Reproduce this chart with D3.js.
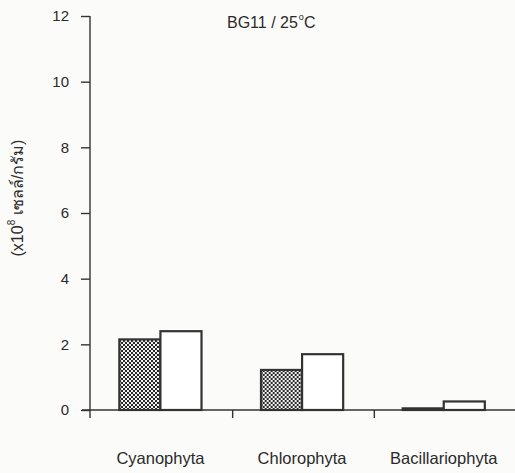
<!DOCTYPE html>
<html>
<head>
<meta charset="utf-8">
<script src="https://cdn.jsdelivr.net/npm/d3@7"></script>
<style>
  body { margin: 0; background: #fbfbf9; }
  text { font-family: "Liberation Sans", Arial, sans-serif; fill: #2a2a2a; }
</style>
</head>
<body>
<svg id="chart" width="515" height="473"></svg>
<script>
const categories = ['Cyanophyta', 'Chlorophyta', 'Bacillariophyta']
const seriesNames = ['dotted', 'open']
const dottedValues = [2.15, 1.22, 0.05]
const openValues = [2.4, 1.7, 0.26]
const yTicks = [0, 2, 4, 6, 8, 10, 12]

const rows = categories.map((c, i) => ({ cat: c, vals: [dottedValues[i], openValues[i]] }))

const chart = d3.select('#chart')
const ink = '#333'

// stipple fill for the first series
const pat = chart.append('defs').append('pattern')
    .attr('id', 'dots')
    .attr('patternUnits', 'userSpaceOnUse')
    .attr('width', 4).attr('height', 4)
pat.append('rect').attr('width', 4).attr('height', 4).attr('fill', '#fff')
pat.append('circle').attr('cx', 1).attr('cy', 1).attr('r', 1.15).attr('fill', '#1e1e1e')
pat.append('circle').attr('cx', 3).attr('cy', 3).attr('r', 1.15).attr('fill', '#1e1e1e')

const y = d3.scaleLinear().domain([0, 12]).range([410, 16])
const x0 = d3.scaleBand().domain(categories).range([91, 516])
const x1 = d3.scaleBand().domain(seriesNames)
    .range([x0.bandwidth() * 0.2, x0.bandwidth() * 0.78])

// Draw the bars
const groups = chart.selectAll('g.grp')
    .data(rows)
    .enter()
    .append('g')
    .attr('class', 'grp')
    .attr('transform', d => `translate(${x0(d.cat)},0)`)

groups.selectAll('rect')
    .data(d => d.vals.map((v, j) => ({ key: seriesNames[j], v })))
    .enter()
    .append('rect')
    .attr('x', d => x1(d.key))
    .attr('y', d => y(d.v))
    .attr('width', x1.bandwidth())
    .attr('height', d => y(0) - y(d.v))
    .attr('fill', d => d.key === 'dotted' ? 'url(#dots)' : '#fff')
    .attr('stroke', ink)
    .attr('stroke-width', 2.2)

// y-axis
const yAxis = d3.axisLeft(y).tickValues(yTicks).tickSize(9).tickPadding(12)
const gy = chart.append('g')
    .attr('transform', 'translate(90,0)')
    .call(yAxis)
gy.select('.domain').attr('d', `M0,${y(12)}V418`).attr('stroke', ink).attr('stroke-width', 1.4)
gy.selectAll('.tick line').attr('stroke', ink).attr('stroke-width', 1.4)
gy.selectAll('.tick text').attr('font-size', 15).attr('fill', '#2a2a2a')
    .attr('font-family', '"Liberation Sans", Arial, sans-serif')

// x-axis
const gx = chart.append('g').attr('transform', `translate(0,${y(0)})`)
gx.append('line').attr('x1', 82).attr('x2', 515).attr('stroke', ink).attr('stroke-width', 1.4)
gx.selectAll('line.tk')
    .data(categories.slice(1).concat(['end']))
    .enter()
    .append('line')
    .attr('class', 'tk')
    .attr('x1', (d, i) => 91 + (i + 1) * x0.step())
    .attr('x2', (d, i) => 91 + (i + 1) * x0.step())
    .attr('y2', 8)
    .attr('stroke', ink).attr('stroke-width', 1.4)

// category labels
chart.selectAll('text.cat')
    .data(categories)
    .enter()
    .append('text')
    .attr('class', 'cat')
    .attr('x', d => x0(d) + x0.bandwidth() * 0.49)
    .attr('y', 464)
    .attr('text-anchor', 'middle')
    .attr('font-size', 16.5)
    .text(d => d)

// title
const title = chart.append('text')
    .attr('x', 227).attr('y', 28)
    .attr('font-size', 16)
title.append('tspan').text('BG11 / 25')
title.append('tspan').attr('font-size', 9).attr('dy', -8).attr('dx', 1).text('o')
title.append('tspan').attr('dy', 8).text('C')

// y label
const ylab = chart.append('text')
    .attr('transform', 'translate(23,198) rotate(-90)')
    .attr('text-anchor', 'middle')
    .attr('font-size', 16)
ylab.append('tspan').text('(x10')
ylab.append('tspan').attr('font-size', 10).attr('dy', -8).text('8')
ylab.append('tspan').attr('dy', 8).text(' เซลล์/กรัม)')
</script>
</body>
</html>
